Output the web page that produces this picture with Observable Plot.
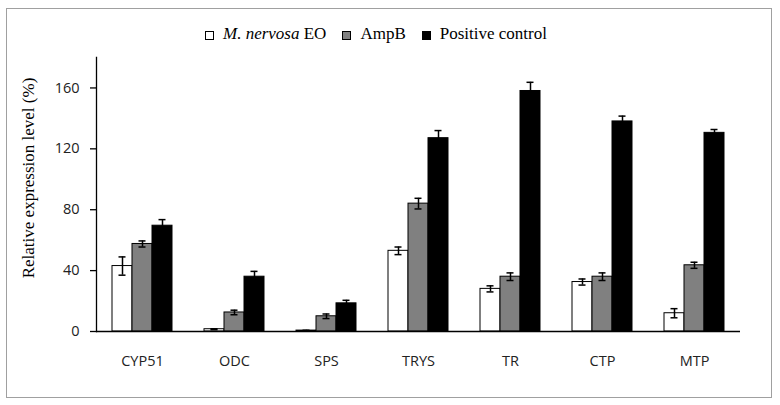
<!DOCTYPE html>
<html>
<head>
<meta charset="utf-8">
<script src="https://cdn.jsdelivr.net/npm/d3@7"></script>
<script src="https://cdn.jsdelivr.net/npm/@observablehq/plot@0.6"></script>
<style>
  body { margin: 0; background: #fff; }
  #wrap { position: relative; width: 780px; height: 405px; overflow: hidden; }
  #border { position: absolute; left: 6px; top: 8px; width: 764px; height: 388px; border: 1.5px solid #a0a0a0; pointer-events: none; }
  #legend { position: absolute; left: 205px; top: 24px; display: flex; align-items: center; font-family: "Liberation Serif", "Times New Roman", serif; font-size: 17px; line-height: 20px; color: #000; white-space: nowrap; }
  #legend .item { display: flex; align-items: center; margin-right: 16px; }
  #legend .sw { width: 7px; height: 7px; border: 1px solid #000; margin-right: 9px; margin-top: 3px; }
  #ytitle { position: absolute; left: 29px; top: 178px; transform: translate(-50%, -50%) rotate(-90deg); font-family: "Liberation Serif", "Times New Roman", serif; font-size: 17px; white-space: nowrap; color: #000; }
</style>
</head>
<body>
<div id="wrap">
  <div id="chart"></div>
  <div id="legend"></div>
  <div id="ytitle">Relative expression level (%)</div>
  <div id="border"></div>
</div>
<script>
const genes = ["CYP51", "ODC", "SPS", "TRYS", "TR", "CTP", "MTP"];
const seriesNames = ["M. nervosa EO", "AmpB", "Positive control"];
const seriesColors = ["#ffffff", "#808080", "#000000"];
const nervosaVals = [43, 1.5, 0.6, 53, 28, 32.5, 12];
const nervosaErr  = [6, 0.3, 0.2, 2.5, 2, 2, 3];
const ampbVals    = [57.5, 12.5, 10, 84, 36, 36, 43.5];
const ampbErr     = [2, 1.5, 1.5, 3.5, 2.5, 2.5, 2];
const posVals     = [69.5, 36, 18.5, 127, 158, 138, 130.5];
const posErr      = [4, 3.5, 2, 5, 5.7, 3.5, 2.2];
const yTicks = [0, 40, 80, 120, 160];

const valueSets = [nervosaVals, ampbVals, posVals];
const errSets = [nervosaErr, ampbErr, posErr];
const data = [];
genes.forEach((g, i) => {
  seriesNames.forEach((s, j) => {
    data.push({gene: g, series: s, v: valueSets[j][i], e: errSets[j][i]});
  });
});

const chart = Plot.plot({
  width: 780,
  height: 405,
  marginTop: 57,
  marginBottom: 74,
  marginLeft: 93,
  marginRight: 37,
  style: {fontFamily: "'Open Sans', sans-serif", fontSize: "14.5px", color: "#000", background: "transparent"},
  fx: {domain: genes, paddingInner: 0, paddingOuter: 0, label: null},
  x: {domain: seriesNames, paddingInner: 0, paddingOuter: 0.714, axis: null},
  y: {domain: [0, 180], label: null},
  color: {domain: seriesNames, range: seriesColors},
  marks: [
    Plot.barY(data, {fx: "gene", x: "series", y: "v", fill: "series", stroke: "#000", strokeWidth: 1}),
    Plot.ruleX(data, {fx: "gene", x: "series", y1: d => d.v - d.e, y2: d => d.v + d.e, stroke: "#000", strokeWidth: 1.5}),
    Plot.tickY(data, {fx: "gene", x: "series", y: d => d.v - d.e, stroke: "#000", strokeWidth: 1.5, insetLeft: 6.5, insetRight: 6.5}),
    Plot.tickY(data, {fx: "gene", x: "series", y: d => d.v + d.e, stroke: "#000", strokeWidth: 1.5, insetLeft: 6.5, insetRight: 6.5}),
    Plot.ruleY([0], {stroke: "#000", strokeWidth: 1.3}),
    Plot.frame({anchor: "left", facetAnchor: "left", stroke: "#000", strokeWidth: 1.3}),
    Plot.axisY({ticks: yTicks, tickSize: 6, tickPadding: 11, label: null, stroke: "#000", strokeWidth: 1.3, strokeOpacity: 1, fill: "#222"}),
    Plot.axisFx({anchor: "bottom", tickSize: 0, tickPadding: 24, label: null, fill: "#222"})
  ]
});
document.getElementById("chart").appendChild(chart);

const legend = document.getElementById("legend");
seriesNames.forEach((s, j) => {
  const item = document.createElement("div");
  item.className = "item";
  const sw = document.createElement("div");
  sw.className = "sw";
  sw.style.background = seriesColors[j];
  item.appendChild(sw);
  const t = document.createElement("span");
  if (j === 0) {
    const it = document.createElement("i");
    it.textContent = "M. nervosa";
    t.appendChild(it);
    t.appendChild(document.createTextNode(" EO"));
  } else {
    t.textContent = s;
  }
  item.appendChild(t);
  legend.appendChild(item);
});
</script>
</body>
</html>
